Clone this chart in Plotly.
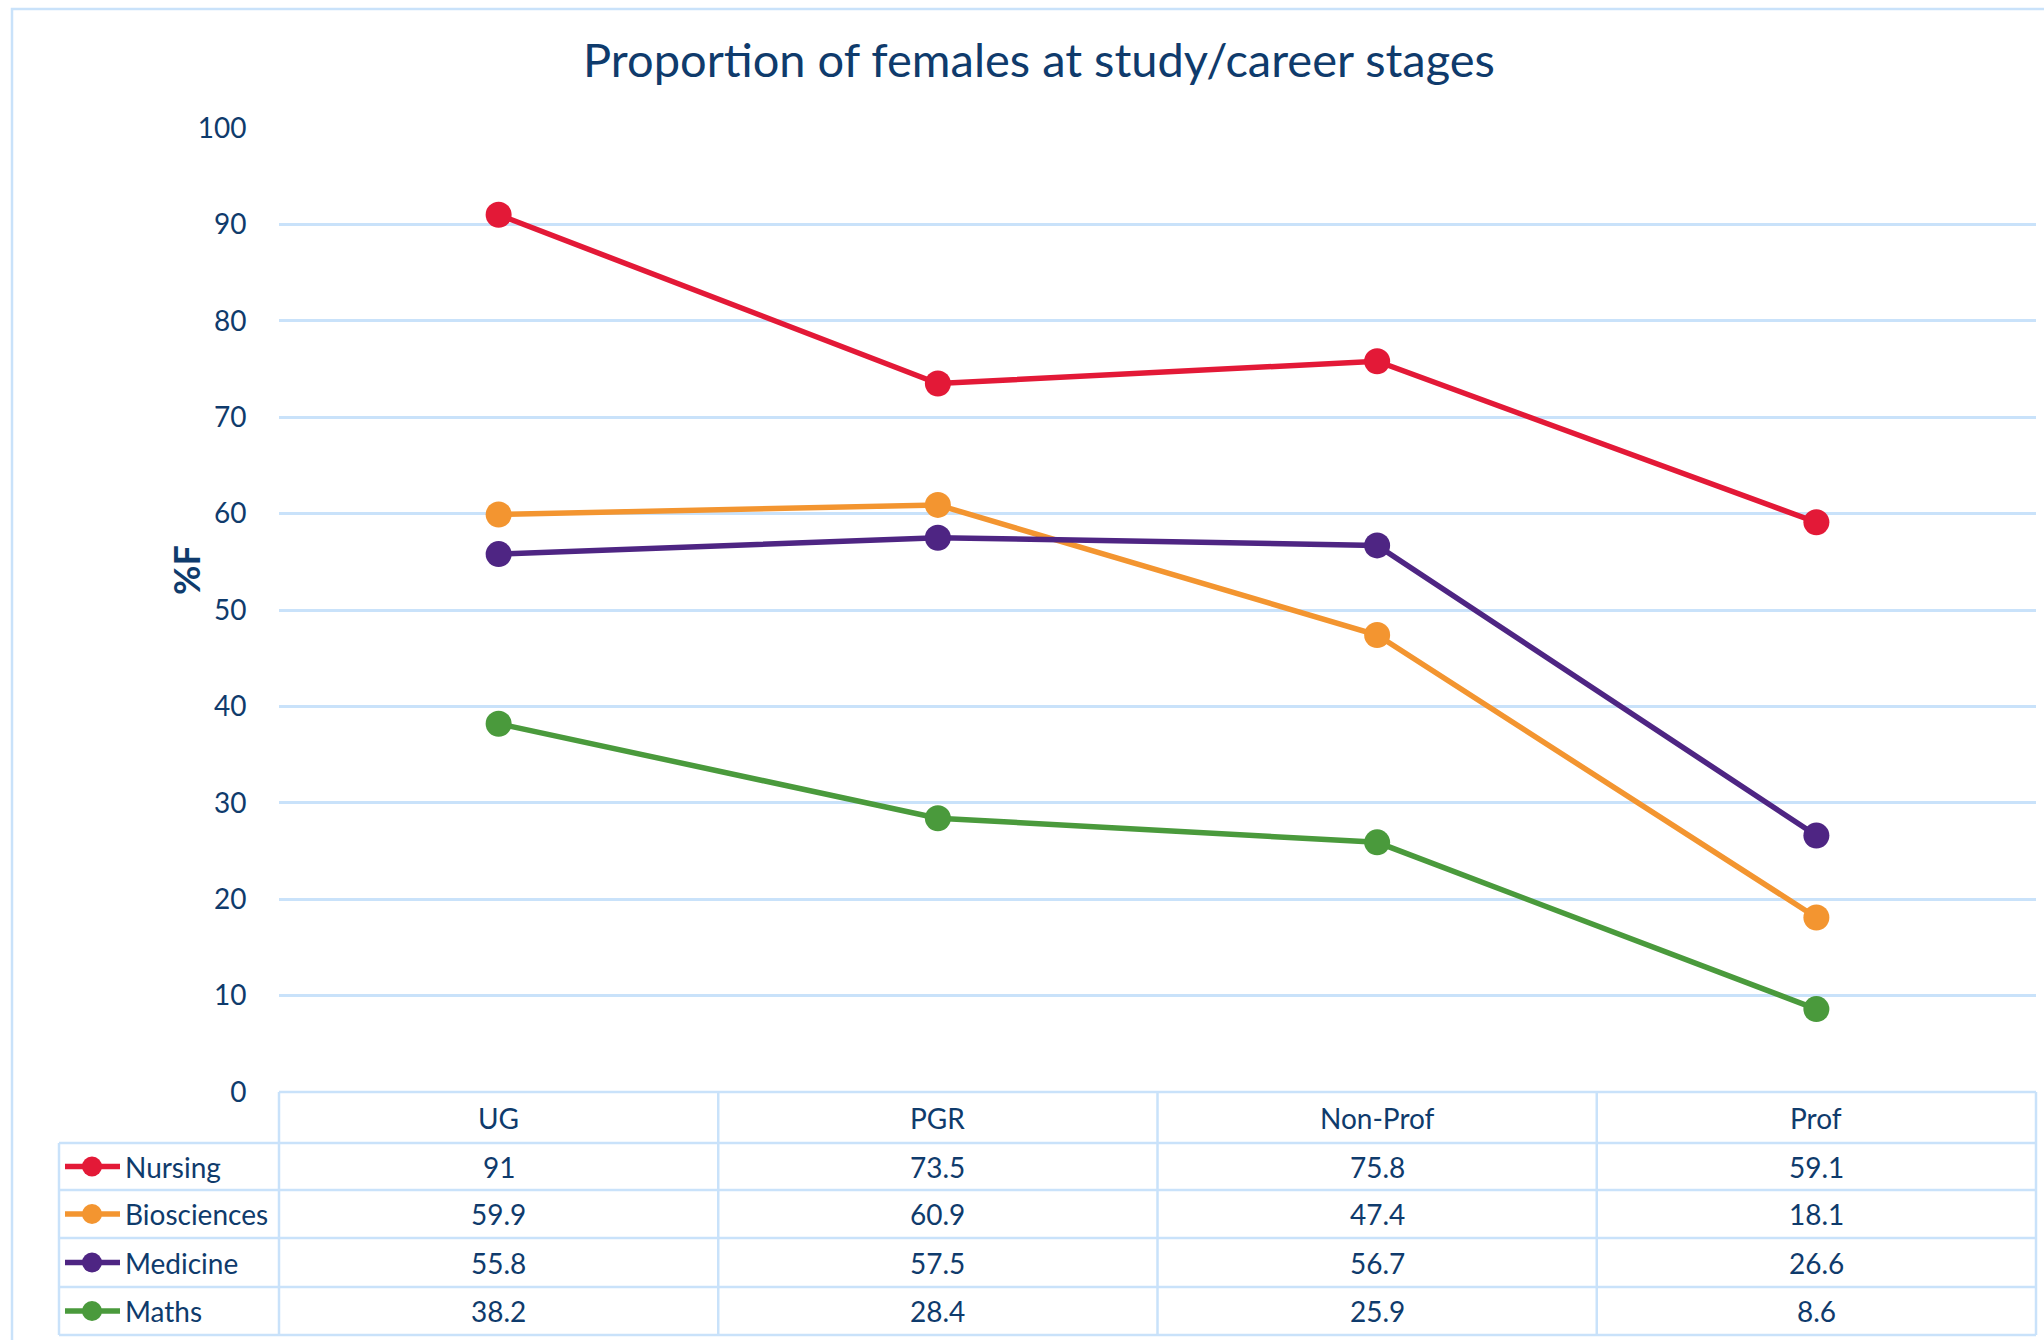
import plotly.graph_objects as go

# ---- data ----
stages = ["UG", "PGR", "Non-Prof", "Prof"]
series_names = ["Nursing", "Biosciences", "Medicine", "Maths"]
nursing = [91, 73.5, 75.8, 59.1]
biosciences = [59.9, 60.9, 47.4, 18.1]
medicine = [55.8, 57.5, 56.7, 26.6]
maths = [38.2, 28.4, 25.9, 8.6]
y_ticks = [0, 10, 20, 30, 40, 50, 60, 70, 80, 90, 100]

series_values = [nursing, biosciences, medicine, maths]
series_colors = ["#E31937", "#F39530", "#4E2583", "#4A9A3C"]

TEXT = "#0F3B6C"
GRID = "#C9E2FA"
FONT = "Lato"

# ---- layout geometry (pixels) ----
W, H = 2044, 1340
L, R, T, B = 279, 2036, 128, 1092      # plot area box
LEG_X = 59                              # left edge of the data table legend column
header_bottom = 1143
row_edges = [1143, 1190, 1238, 1287, 1335]


def px(x):
    return (x - L) / (R - L)


def py(y):
    return (B - y) / (B - T)


fig = go.Figure()

for name, vals, col in zip(series_names, series_values, series_colors):
    fig.add_trace(go.Scatter(
        x=list(range(len(stages))), y=vals, name=name, mode="lines+markers",
        line=dict(color=col, width=5.5),
        marker=dict(color=col, size=26, line=dict(width=0)),
        cliponaxis=False, showlegend=False,
    ))

shapes = []
annotations = []

# outer chart border
shapes.append(dict(type="rect", xref="paper", yref="paper",
                   x0=px(12), x1=px(W + 20), y0=py(9), y1=py(H + 20),
                   line=dict(color=GRID, width=2.5), fillcolor="rgba(0,0,0,0)", layer="below"))

# data table grid: horizontal rules
shapes.append(dict(type="line", xref="paper", yref="paper",
                   x0=px(L), x1=px(R), y0=py(B), y1=py(B), line=dict(color=GRID, width=2.5)))
for ye in row_edges:
    shapes.append(dict(type="line", xref="paper", yref="paper",
                       x0=px(LEG_X), x1=px(R), y0=py(ye), y1=py(ye), line=dict(color=GRID, width=2.5)))
# vertical rules
shapes.append(dict(type="line", xref="paper", yref="paper",
                   x0=px(LEG_X), x1=px(LEG_X), y0=py(header_bottom), y1=py(row_edges[-1]),
                   line=dict(color=GRID, width=2.5)))
col_w = (R - L) / len(stages)
for i in range(len(stages) + 1):
    xv = L + i * col_w
    shapes.append(dict(type="line", xref="paper", yref="paper",
                       x0=px(xv), x1=px(xv), y0=py(B), y1=py(row_edges[-1]),
                       line=dict(color=GRID, width=2.5)))

# header labels
for i, s in enumerate(stages):
    annotations.append(dict(x=i, y=py((B + header_bottom) / 2), xref="x", yref="paper",
                            text=s, showarrow=False, xanchor="center", yanchor="middle",
                            font=dict(family=FONT, size=28, color=TEXT)))

# table rows: legend key + name + values
for r, (name, vals, col) in enumerate(zip(series_names, series_values, series_colors)):
    yc = (row_edges[r] + row_edges[r + 1]) / 2
    shapes.append(dict(type="line", xref="paper", yref="paper",
                       x0=px(65), x1=px(120), y0=py(yc), y1=py(yc),
                       line=dict(color=col, width=5.5)))
    shapes.append(dict(type="circle", xref="paper", yref="paper",
                       x0=px(82), x1=px(102), y0=py(yc + 10), y1=py(yc - 10),
                       fillcolor=col, line=dict(color=col, width=0)))
    annotations.append(dict(x=px(123), y=py(yc), xref="paper", yref="paper",
                            text=name, showarrow=False, xanchor="left", yanchor="middle",
                            font=dict(family=FONT, size=28, color=TEXT)))
    for i, v in enumerate(vals):
        annotations.append(dict(x=i, y=py(yc), xref="x", yref="paper",
                                text=f"{v:g}", showarrow=False, xanchor="center", yanchor="middle",
                                font=dict(family=FONT, size=28, color=TEXT)))

# y-axis title
annotations.append(dict(x=px(186), y=py(570), xref="paper", yref="paper",
                        text="<b>%F</b>", textangle=-90, showarrow=False,
                        xanchor="center", yanchor="middle",
                        font=dict(family=FONT, size=36, color=TEXT)))

fig.update_layout(
    width=W, height=H,
    margin=dict(l=L, r=W - R, t=T, b=H - B, pad=0),
    paper_bgcolor="white", plot_bgcolor="white",
    title=dict(text="Proportion of females at study/career stages",
               x=px(1039), xref="paper", xanchor="center",
               y=1 - 61 / H, yanchor="middle",
               font=dict(family=FONT, size=47, color=TEXT)),
    xaxis=dict(range=[-0.5, len(stages) - 0.5], showticklabels=False, showgrid=False,
               zeroline=False, showline=False, ticks=""),
    yaxis=dict(range=[0, 100], tickvals=y_ticks, showgrid=True, gridcolor=GRID, gridwidth=2.5,
               zeroline=False, showline=False, ticks="outside", ticklen=26,
               tickcolor="rgba(0,0,0,0)",
               tickfont=dict(family=FONT, size=28, color=TEXT)),
    shapes=shapes, annotations=annotations,
    showlegend=False,
)

fig.write_html("out.html")
